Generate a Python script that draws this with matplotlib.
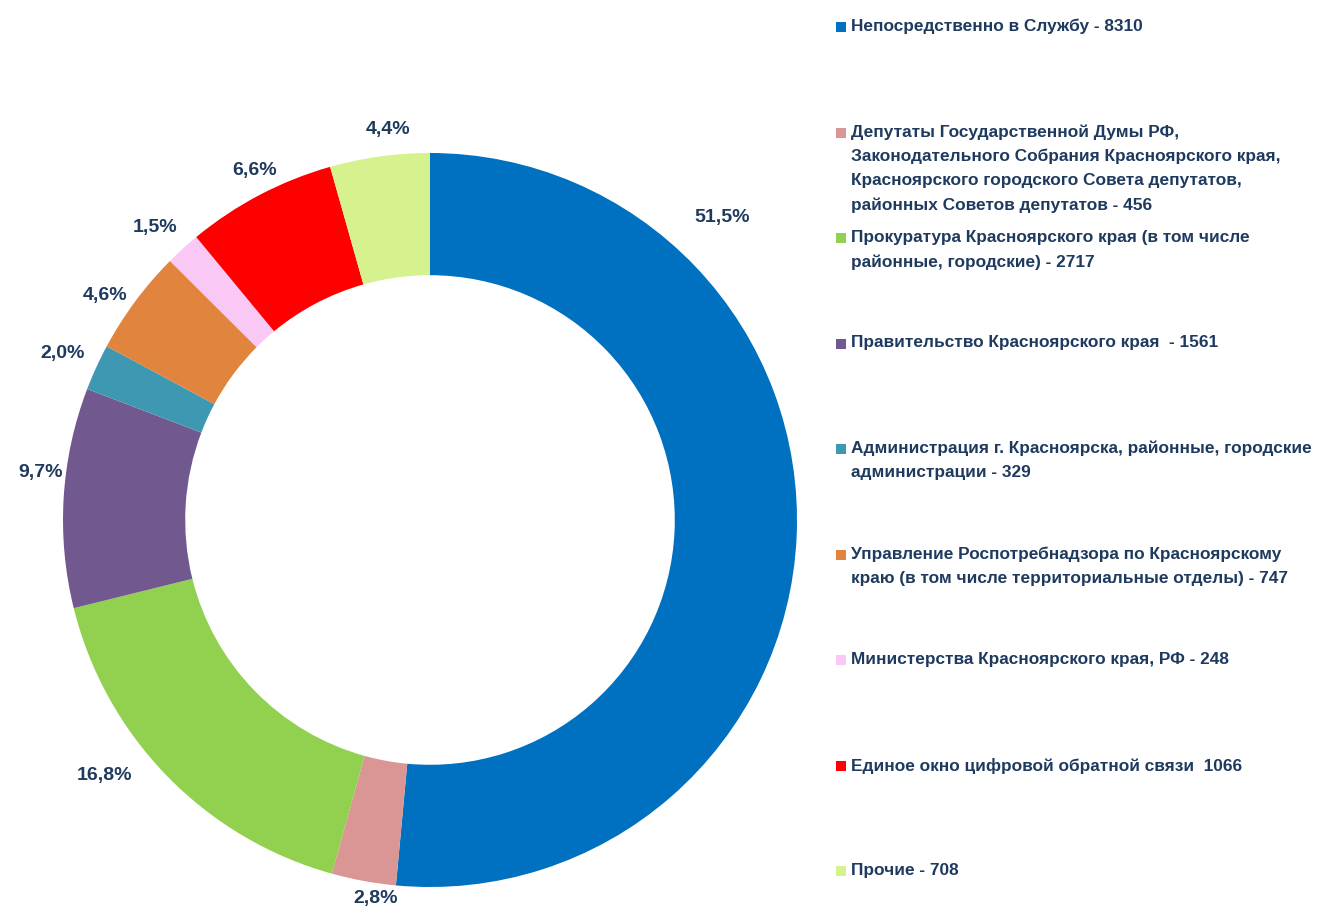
import matplotlib
matplotlib.use("Agg")
import matplotlib.pyplot as plt
from matplotlib.patches import Rectangle
import numpy as np
from matplotlib import font_manager

values = [8310, 456, 2717, 1561, 329, 747, 248, 1066, 708]
colors = ["#0070C0", "#D99694", "#92D050", "#71588F", "#3F98B2",
          "#E0843E", "#F9C8F4", "#FF0000", "#D5F28E"]
legend_labels = [
    "Непосредственно в Службу - 8310",
    "Депутаты Государственной Думы РФ,\nЗаконодательного Собрания Красноярского края,\n"
    "Красноярского городского Совета депутатов,\nрайонных Советов депутатов - 456",
    "Прокуратура Красноярского края (в том числе\nрайонные, городские) - 2717",
    "Правительство Красноярского края  - 1561",
    "Администрация г. Красноярска, районные, городские\nадминистрации - 329",
    "Управление Роспотребнадзора по Красноярскому\nкраю (в том числе территориальные отделы) - 747",
    "Министерства Красноярского края, РФ - 248",
    "Единое окно цифровой обратной связи  1066",
    "Прочие - 708",
]

available = {f.name for f in font_manager.fontManager.ttflist}
fam = ["Liberation Sans Narrow", "DejaVu Sans"] if "Liberation Sans Narrow" in available else ["Liberation Sans", "DejaVu Sans"]
plt.rcParams["font.family"] = fam

W, H = 1327, 915
fig = plt.figure(figsize=(W / 100, H / 100), dpi=100)
ax = fig.add_axes([0, 0, 1, 1])

cx, cy, R = 430, H - 520, 367
txt_color = "#1F3A5F"

wedges, _ = ax.pie(values, colors=colors, startangle=90, counterclock=False,
                   center=(cx, cy), radius=R,
                   wedgeprops=dict(width=R * 0.333, linewidth=0), frame=True)
ax.set_xlim(0, W)
ax.set_ylim(0, H)
ax.set_aspect("equal")
ax.axis("off")

total = sum(values)
pcts = [v / total * 100 for v in values]
cum = np.cumsum([0] + pcts[:-1])
# label placement (angle shift in degrees from wedge middle, radius factor)
label_shift = [-48.7, -2.3, 6.1, 3.4, -0.2, -1.9, -0.9, 1.0, 1.8]
label_r = [1.145, 1.043, 1.126, 1.07, 1.10, 1.076, 1.093, 1.065, 1.069]
for i, p in enumerate(pcts):
    mid = (cum[i] + p / 2) * 3.6 + label_shift[i]
    ang = np.deg2rad(mid)  # clockwise from top
    r = R * label_r[i]
    x = cx + r * np.sin(ang)
    y = cy + r * np.cos(ang)
    ax.text(x, y, f"{p:.1f}".replace(".", ",") + "%", ha="center", va="center",
            fontsize=14, fontweight="bold", color=txt_color)

# legend
top = H - 27
step = 105.5
for i, (lab, c) in enumerate(zip(legend_labels, colors)):
    y = top - i * step
    ax.add_patch(Rectangle((836, y - 5), 10, 10, facecolor=c, edgecolor="none"))
    ax.text(851, y + 8, lab, ha="left", va="top", fontsize=12.4,
            fontweight="bold", color=txt_color, linespacing=1.72)

fig.savefig("out.png", dpi=100, facecolor="white")
